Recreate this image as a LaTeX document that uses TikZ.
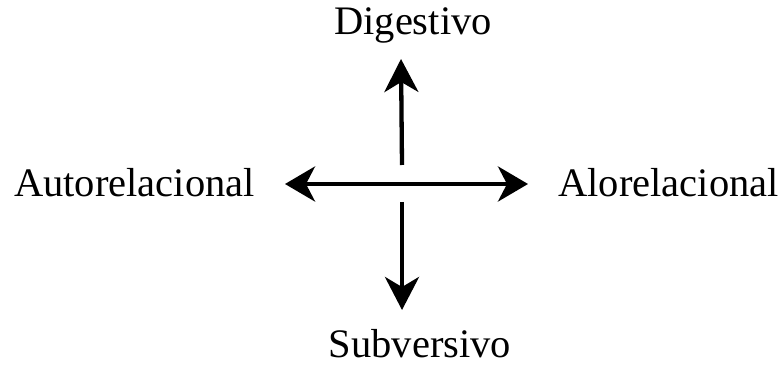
\documentclass[tikz,border=0pt]{standalone}
\usepackage{fontspec}
\setmainfont{Liberation Serif}
\usetikzlibrary{arrows.meta}
\begin{document}
\begin{tikzpicture}[x=1pt,y=1pt,
  lbl/.style={inner sep=0pt,font=\fontsize{40.5}{44}\selectfont},
  arr/.style={line width=4.3pt,-{Stealth[length=33pt,width=34pt,inset=10pt]}},
  darr/.style={line width=4.3pt,{Stealth[length=30pt,width=35pt,inset=9pt]}-{Stealth[length=30pt,width=35pt,inset=9pt]}}]
\useasboundingbox (0,0) rectangle (783,369);
\node[lbl,anchor=base] (dig) at (413,334) {Digestivo};
\node[lbl,anchor=base west] (auto) at (14,172) {Autorelacional};
\node[lbl,anchor=base east] (alo) at (779,172) {Alorelacional};
\node[lbl,anchor=base] (sub) at (420,12) {Subversivo};
\coordinate (upS) at (402,204);
\coordinate (upE) at (401,310);
\coordinate (hL) at (285,185);
\coordinate (hR) at (528,185);
\coordinate (dnS) at (402,167);
\coordinate (dnE) at (402,59);
\draw[arr] (upS) -- (upE);
\draw[darr] (hL) -- (hR);
\draw[arr] (dnS) -- (dnE);
\end{tikzpicture}
\end{document}
